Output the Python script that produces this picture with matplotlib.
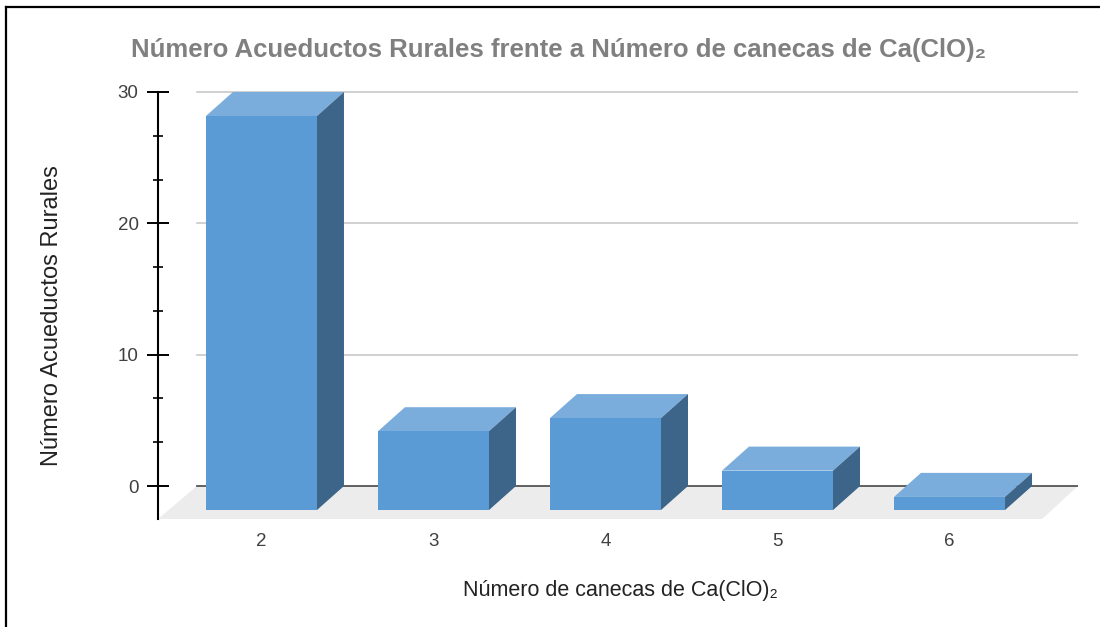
import matplotlib
matplotlib.use("Agg")
import matplotlib.pyplot as plt
from matplotlib.patches import Polygon
from matplotlib.lines import Line2D
from matplotlib.ticker import MultipleLocator

categories = ["2", "3", "4", "5", "6"]
values = [30, 6, 7, 3, 1]

title = "Número Acueductos Rurales frente a Número de canecas de Ca(ClO)₂"
xlabel = "Número de canecas de Ca(ClO)₂"
ylabel = "Número Acueductos Rurales"

plt.rcParams['font.family'] = ['Liberation Sans', 'DejaVu Sans']

front_c = "#5b9bd5"
top_c = "#7aaddc"
side_c = "#3c6589"

fig = plt.figure(figsize=(11, 6.27), dpi=100)
ax = fig.add_axes([0.1436, 0.1595, 0.8364, 0.7049])
ax.set_xlim(-0.6017, 4.747)
ax.set_ylim(-3.12, 30.53)

hw = 0.3227   # half width of the front face
dx = 0.157    # depth offset in x
dy = 1.83     # depth offset in y

# floor
ax.add_patch(Polygon([(-0.6017, -2.513), (-0.375, 0), (4.747, 0), (4.538, -2.513)],
                     closed=True, fc="#ececec", ec="none", zorder=0))

# grid on the back wall
for g in [10, 20, 30]:
    ax.plot([-0.375, 4.747], [g, g], color="#c8c8c8", lw=1.2, zorder=0.5)
ax.plot([-0.375, 4.747], [0, 0], color="#555555", lw=1.3, zorder=0.5)

x = list(range(len(categories)))
ax.bar(x, values, width=2 * hw, bottom=-dy, color=front_c, zorder=3)
for i, v in zip(x, values):
    top = [(i - hw, v - dy), (i + hw, v - dy), (i + hw + dx, v), (i - hw + dx, v)]
    side = [(i + hw, -dy), (i + hw + dx, 0), (i + hw + dx, v), (i + hw, v - dy)]
    ax.add_patch(Polygon(top, closed=True, fc=top_c, ec="none", zorder=2))
    ax.add_patch(Polygon(side, closed=True, fc=side_c, ec="none", zorder=2))

for s in ["top", "right", "bottom"]:
    ax.spines[s].set_visible(False)
ax.spines["left"].set_bounds(-2.513, 30)
ax.spines["left"].set_linewidth(1.5)

ax.set_yticks([0, 10, 20, 30])
ax.yaxis.set_minor_locator(MultipleLocator(10 / 3))
ax.tick_params(axis="y", which="major", direction="inout", length=16, width=1.4,
               labelsize=13.5, labelcolor="#404040", pad=6)
ax.tick_params(axis="y", which="minor", direction="inout", length=7, width=1.2)
ax.set_xticks(x)
ax.set_xticklabels(categories)
ax.tick_params(axis="x", length=0, labelsize=13.5, labelcolor="#404040", pad=4)

fig.text(0.508, 0.920, title, ha="center", va="center", fontsize=18.5,
         fontweight="bold", color="#808080")
fig.text(0.564, 0.058, xlabel, ha="center", va="center", fontsize=15.5, color="#222222")
fig.text(0.047, 0.496, ylabel, ha="center", va="center", rotation=90,
         fontsize=17, color="#222222")

# frame lines on the left and top
fig.add_artist(Line2D([6 / 1100, 6 / 1100], [0, 1 - 7 / 627], color="black", lw=1.6))
fig.add_artist(Line2D([6 / 1100, 1], [1 - 7 / 627, 1 - 7 / 627], color="black", lw=1.6))

fig.savefig("out.png", dpi=100)
